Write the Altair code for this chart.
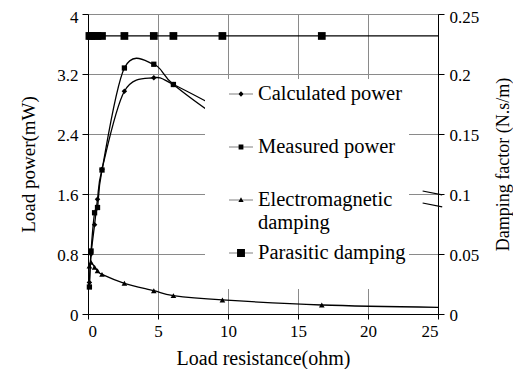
import altair as alt
import pandas as pd

# ---------------- data ----------------
x_points = [0.1, 0.22, 0.47, 0.68, 1.0, 2.6, 4.7, 6.1, 9.6, 16.7]
calc_power = [0.42, 0.80, 1.19, 1.53, 1.93, 2.97, 3.15, 3.06, 2.72, 2.00]
meas_power = [0.36, 0.84, 1.35, 1.42, 1.92, 3.28, 3.33, 3.06, 2.58, 1.70]

damp_x = [0.1, 0.22, 0.47, 0.68, 1.0, 2.6, 4.7, 6.1, 9.6, 16.7, 25.0]
em_damping = [0.040, 0.043, 0.039, 0.036, 0.033, 0.0256, 0.0194, 0.0153, 0.0117, 0.0075, 0.0056]
parasitic_damping = [0.2317, 0.2317, 0.2317, 0.2317, 0.2317, 0.2317, 0.2317, 0.2317, 0.2317, 0.2317, 0.2317]
damp_marker = [True, True, True, True, True, True, True, True, True, True, False]

x_ticks = [0, 5, 10, 15, 20, 25]
power_ticks = [0, 0.8, 1.6, 2.4, 3.2, 4]
damping_ticks = [0, 0.05, 0.1, 0.15, 0.2, 0.25]

series_keys = ["calc", "meas", "em", "para"]
# "|" separates label lines; every entry gets two lines so rows are evenly spaced
series_labels = ["Calculated power|", "Measured power|", "Electromagnetic|damping", "Parasitic damping   |"]

# axis-break slashes on the right axis (in data units)
break_x1 = [23.9, 23.9]
break_x2 = [25.3, 25.3]
break_y1 = [0.1025, 0.0925]
break_y2 = [0.0992, 0.0892]

FONT = "Liberation Serif"

power_df = pd.DataFrame({"x": x_points, "calc": calc_power, "meas": meas_power})
damp_df = pd.DataFrame({"x": damp_x, "em": em_damping, "para": parasitic_damping, "marker": damp_marker})
legend_df = pd.DataFrame({"series": series_keys, "x": [0] * 4, "y": [0] * 4})
break_df = pd.DataFrame({"x": break_x1, "x2": break_x2, "y": break_y1, "y2": break_y2})

x_scale = alt.Scale(domain=[0, 25], nice=False, zero=False)
x_axis = alt.Axis(
    values=x_ticks, format="~g", title="Load resistance(ohm)", grid=True,
    gridColor="#8a8a8a", gridWidth=1, tickSize=5, labelPadding=4,
    titleX=175, titleY=44, titleBaseline="middle",
)

def X():
    return alt.X("x:Q", scale=x_scale, axis=x_axis)

p_scale = alt.Scale(domain=[0, 4], nice=False, zero=False)
p_axis = alt.Axis(
    orient="left", values=power_ticks, format="~g", title="Load power(mW)", grid=True,
    gridColor="#8a8a8a", gridWidth=1, tickSize=6, labelPadding=4,
    labelOffset={"condition": {"test": "datum.value >= 4", "value": 3}, "value": 1},
    titleAngle=270, titleX=-60, titleY=150, titleBaseline="middle", titleAlign="center",
    titleFontSize=19,
)

def YP(field):
    return alt.Y(f"{field}:Q", scale=p_scale, axis=p_axis)

d_scale = alt.Scale(domain=[0, 0.25], nice=False, zero=False)
d_axis = alt.Axis(
    orient="right", values=damping_ticks, format="~g", title="Damping factor (N.s/m)", grid=False,
    tickSize=6, labelPadding=5,
    labelOffset={"condition": {"test": "datum.value >= 0.25", "value": 3}, "value": 1},
    titleAngle=270, titleX=65, titleY=150, titleBaseline="middle", titleAlign="center",
    titleFontSize=18,
)

def YD(field):
    return alt.Y(f"{field}:Q", scale=d_scale, axis=d_axis)

LW = 1.3
base_p = alt.Chart(power_df)
calc_line = base_p.mark_line(color="black", strokeWidth=LW, interpolate="cardinal").encode(x=X(), y=YP("calc"))
calc_pts = base_p.mark_point(shape="diamond", filled=True, color="black", size=30, opacity=1).encode(x=X(), y=YP("calc"))
meas_line = base_p.mark_line(color="black", strokeWidth=LW, interpolate="cardinal").encode(x=X(), y=YP("meas"))
meas_pts = base_p.mark_point(shape="square", filled=True, color="black", size=28, opacity=1).encode(x=X(), y=YP("meas"))

# legend (entries come from the explicit shape-scale domain); symbols are a line with a marker
LINE = "M-1,-0.03H1V0.03H-1Z"
shape_paths = [
    LINE + "M0,-0.22L0.22,0L0,0.22L-0.22,0Z",
    LINE + "M-0.2,-0.2H0.2V0.2H-0.2Z",
    LINE + "M0,-0.22L0.22,0.17L-0.22,0.17Z",
    LINE + "M-0.33,-0.33H0.33V0.33H-0.33Z",
]
label_expr = "split({" + ",".join(f"'{k}':'{l}'" for k, l in zip(series_keys, series_labels)) + "}[datum.value], '|')"
legend_layer = alt.Chart(legend_df).mark_point(filled=True, color="black", opacity=1).encode(
    x=X(), y=YP("y"),
    shape=alt.Shape(
        "series:N",
        scale=alt.Scale(domain=series_keys, range=shape_paths),
        legend=alt.Legend(
            title=None, orient="none", legendX=117, legendY=65,
            fillColor="white", padding=3, symbolOffset=21,
            symbolSize=576, symbolStrokeWidth=0, symbolFillColor="black", symbolStrokeColor="black",
            labelFont=FONT, labelFontSize=20.5, labelColor="black", labelOffset=5, labelLimit=400,
            rowPadding=8, labelExpr=label_expr,
        ),
    ),
).transform_filter("datum.x > 100")

base_d = alt.Chart(damp_df)
em_line = base_d.mark_line(color="black", strokeWidth=LW, interpolate="cardinal").encode(x=X(), y=YD("em"))
em_pts = base_d.mark_point(shape="triangle-up", filled=True, color="black", size=32, opacity=1).encode(
    x=X(), y=YD("em")).transform_filter("datum.marker")
para_line = base_d.mark_line(color="black", strokeWidth=LW).encode(x=X(), y=YD("para"))
para_pts = base_d.mark_point(shape="square", filled=True, color="black", size=60, opacity=1).encode(
    x=X(), y=YD("para")).transform_filter("datum.marker")
breaks = alt.Chart(break_df).mark_rule(color="black", strokeWidth=1.2).encode(
    x=X(), x2="x2:Q", y=YD("y"), y2="y2:Q")

left = alt.layer(calc_line, meas_line, calc_pts, meas_pts, legend_layer)
right = alt.layer(em_line, para_line, em_pts, para_pts, breaks)

chart = alt.layer(left, right).resolve_scale(y="independent").properties(
    width=350, height=300,
    autosize=alt.AutoSizeParams(type="none"),
    padding={"left": 80, "top": 6, "right": 75, "bottom": 55},
).configure_view(stroke=None).configure_axis(
    labelFont=FONT, titleFont=FONT, labelFontSize=17, titleFontSize=20,
    labelColor="black", titleColor="black", titleFontWeight="normal",
    domainColor="black", tickColor="black", domainWidth=1, tickWidth=1,
)

chart.save("out.html", embed_options={"renderer": "svg", "actions": False})
